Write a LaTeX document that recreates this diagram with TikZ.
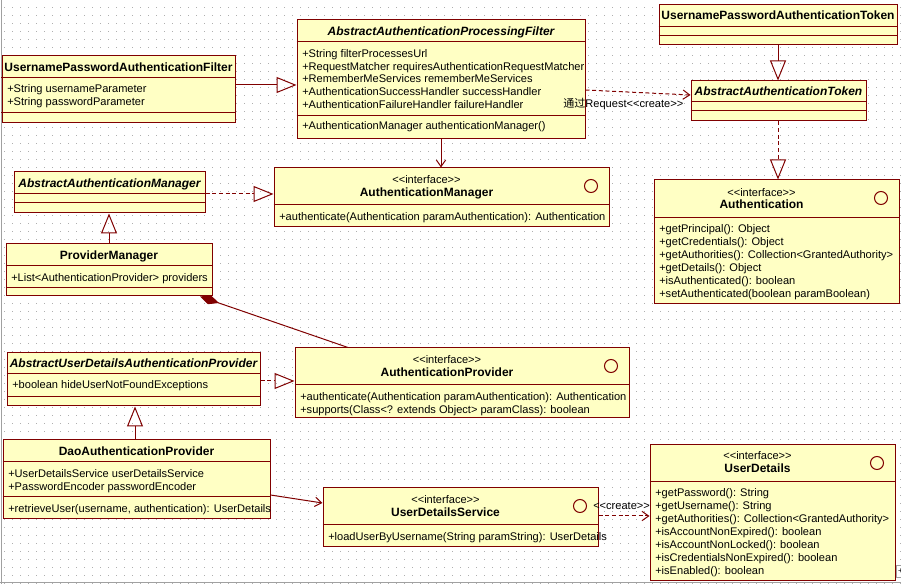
\documentclass[tikz,border=0pt]{standalone}
\usepackage{fontspec}
\setmainfont{Liberation Sans}[Ligatures=TeXOff]
\newfontfamily\cjk{Noto Sans CJK SC}
\usetikzlibrary{arrows.meta,fit,calc}
\definecolor{bord}{RGB}{128,0,0}
\definecolor{boxfill}{RGB}{255,255,196}
\definecolor{griddot}{RGB}{175,175,175}
\definecolor{frame}{RGB}{160,160,160}
\tikzset{
  ubox/.style={draw=bord, fill=boxfill, line width=0.75pt, inner sep=0pt},
  sep/.style={draw=bord, line width=0.75pt},
  txt/.style={inner sep=0pt, anchor=west, text height=6.2pt, text depth=0pt, font=\fontsize{8.3}{10}\selectfont},
  ster/.style={txt, anchor=center},
  ttl/.style={inner sep=0pt, anchor=center, text height=6.8pt, text depth=0pt, font=\fontsize{9}{10}\selectfont\bfseries},
  attl/.style={ttl, font=\fontsize{9}{10}\selectfont\bfseries\itshape},
  ifc/.style={draw=bord, line width=0.75pt},
  conn/.style={draw=bord, line width=0.75pt},
  gen/.style={conn, -{Triangle[open, length=15pt, width=12pt]}},
  real/.style={gen, dash pattern=on 3pt off 2pt},
  assoc/.style={conn, -{Straight Barb[length=5pt, width=7pt]}},
  dep/.style={assoc, dash pattern=on 3pt off 2pt},
  comp/.style={conn, {Diamond[length=15pt, width=7pt]}-},
  lbl/.style={inner sep=0pt, anchor=west, text height=6.2pt, text depth=0pt, font=\fontsize{8.3}{10}\selectfont},
}
\newcommand\cls[5]{\node[ubox, fit={(#2,#3) (#4,#5)}] (#1) {};}
\newcommand\sepl[2]{\draw[sep] (#1.west |- 0,#2) -- (#1.east |- 0,#2);}
\begin{document}
\begin{tikzpicture}[x=0.75pt, y=-0.75pt]
\useasboundingbox (0,0) rectangle (901,584);
\fill[white] (0,0) rectangle (901,584);
% dotted grid
\foreach \yy in {0,8,...,584} {
  \draw[griddot, line width=0.75pt, dash pattern=on 0.75pt off 5.25pt] (4,\yy) -- (901,\yy);
}
\draw[frame, line width=0.75pt] (1,0) -- (1,584);
\draw[frame, line width=0.75pt] (0,583) -- (901,583);

% ---------- UsernamePasswordAuthenticationFilter
\cls{upf}{2}{56}{235}{123}
\sepl{upf}{78}\sepl{upf}{113}
\node[ttl] (upf-t) at (118.5,67) {UsernamePasswordAuthenticationFilter};
\node[txt] (upf-a1) at (7,88) {+String usernameParameter};
\node[txt] (upf-a2) at (7,101) {+String passwordParameter};

% ---------- AbstractAuthenticationProcessingFilter
\cls{aapf}{297}{20}{585}{139}
\sepl{aapf}{42}\sepl{aapf}{116}
\node[attl] (aapf-t) at (441,31) {AbstractAuthenticationProcessingFilter};
\node[txt] (aapf-a1) at (302,53) {+String filterProcessesUrl};
\node[txt] (aapf-a2) at (302,66) {+RequestMatcher requiresAuthenticationRequestMatcher};
\node[txt] (aapf-a3) at (302,78.5) {+RememberMeServices rememberMeServices};
\node[txt] (aapf-a4) at (302,91) {+AuthenticationSuccessHandler successHandler};
\node[txt] (aapf-a5) at (302,104) {+AuthenticationFailureHandler failureHandler};
\node[txt] (aapf-o1) at (302,125) {+AuthenticationManager authenticationManager()};

% ---------- UsernamePasswordAuthenticationToken
\cls{upat}{659}{5}{897}{45}
\sepl{upat}{27}\sepl{upat}{36}
\node[ttl] (upat-t) at (778,15) {UsernamePasswordAuthenticationToken};

% ---------- AbstractAuthenticationToken
\cls{aat}{691}{81}{866}{121}
\sepl{aat}{102}\sepl{aat}{111}
\node[attl] (aat-t) at (778.5,91) {AbstractAuthenticationToken};

% ---------- AbstractAuthenticationManager
\cls{aam}{14}{172}{205}{213}
\sepl{aam}{194}\sepl{aam}{203}
\node[attl] (aam-t) at (109.5,183) {AbstractAuthenticationManager};

% ---------- ProviderManager
\cls{pm}{6}{244}{212}{296}
\sepl{pm}{266}\sepl{pm}{288}
\node[ttl] (pm-t) at (109,255) {ProviderManager};
\node[txt] (pm-a1) at (11,277) {+List<AuthenticationProvider> providers};

% ---------- AuthenticationManager
\cls{am}{274}{168}{609}{227}
\sepl{am}{205}
\node[ster] (am-s) at (426.5,179) {<<interface>>};
\node[ttl] (am-t) at (426.5,192) {AuthenticationManager};
\draw[ifc] (591,186) circle[radius=6.5];
\node[txt] (am-o1) at (279,216) {+authenticate(Authentication paramAuthentication): Authentication};

% ---------- Authentication
\cls{auth}{654}{180}{899}{304}
\sepl{auth}{218}
\node[ster] (auth-s) at (761.5,192) {<<interface>>};
\node[ttl] (auth-t) at (761.5,204) {Authentication};
\draw[ifc] (881,198) circle[radius=6.5];
\node[txt] (auth-o1) at (659,228) {+getPrincipal(): Object};
\node[txt] (auth-o2) at (659,241) {+getCredentials(): Object};
\node[txt] (auth-o3) at (659,254) {+getAuthorities(): Collection<GrantedAuthority>};
\node[txt] (auth-o4) at (659,267) {+getDetails(): Object};
\node[txt] (auth-o5) at (659,280) {+isAuthenticated(): boolean};
\node[txt] (auth-o6) at (659,293) {+setAuthenticated(boolean paramBoolean)};

% ---------- AbstractUserDetailsAuthenticationProvider
\cls{audap}{7}{353}{260}{406}
\sepl{audap}{374}\sepl{audap}{397}
\node[attl] (audap-t) at (133.5,363) {AbstractUserDetailsAuthenticationProvider};
\node[txt] (audap-a1) at (12,384) {+boolean hideUserNotFoundExceptions};

% ---------- DaoAuthenticationProvider
\cls{dao}{3}{440}{270}{519}
\sepl{dao}{462}\sepl{dao}{497}
\node[ttl] (dao-t) at (136.5,451) {DaoAuthenticationProvider};
\node[txt] (dao-a1) at (8,473) {+UserDetailsService userDetailsService};
\node[txt] (dao-a2) at (8,486) {+PasswordEncoder passwordEncoder};
\node[txt] (dao-o1) at (8,508) {+retrieveUser(username, authentication): UserDetails};

% ---------- AuthenticationProvider
\cls{ap}{295}{348}{629}{418}
\sepl{ap}{385}
\node[ster] (ap-s) at (447,359) {<<interface>>};
\node[ttl] (ap-t) at (447,372) {AuthenticationProvider};
\draw[ifc] (611,366) circle[radius=6.5];
\node[txt] (ap-o1) at (300,396) {+authenticate(Authentication paramAuthentication): Authentication};
\node[txt] (ap-o2) at (300,409) {+supports(Class<? extends Object> paramClass): boolean};

% ---------- UserDetailsService
\cls{uds}{323}{488}{598}{547}
\sepl{uds}{525}
\node[ster] (uds-s) at (445.5,499) {<<interface>>};
\node[ttl] (uds-t) at (445.5,512) {UserDetailsService};
\draw[ifc] (580,506) circle[radius=6.5];
\node[txt] (uds-o1) at (328,536) {+loadUserByUsername(String paramString): UserDetails};

% ---------- UserDetails
\cls{ud}{650}{445}{895}{581}
\sepl{ud}{482}
\node[ster] (ud-s) at (757.5,455) {<<interface>>};
\node[ttl] (ud-t) at (757.5,468) {UserDetails};
\draw[ifc] (877,463) circle[radius=6.5];
\node[txt] (ud-o1) at (655,492) {+getPassword(): String};
\node[txt] (ud-o2) at (655,505) {+getUsername(): String};
\node[txt] (ud-o3) at (655,518) {+getAuthorities(): Collection<GrantedAuthority>};
\node[txt] (ud-o4) at (655,531) {+isAccountNonExpired(): boolean};
\node[txt] (ud-o5) at (655,544) {+isAccountNonLocked(): boolean};
\node[txt] (ud-o6) at (655,557) {+isCredentialsNonExpired(): boolean};
\node[txt] (ud-o7) at (655,570) {+isEnabled(): boolean};

% ---------- connectors
\draw[gen] (upf.east |- 0,85) -- (aapf.west |- 0,85);
\draw[assoc] (aapf.south -| 441,0) -- (am.north -| 441,0);
\draw[gen] (upat.south -| 778,0) -- (aat.north -| 778,0);
\draw[real] (aat.south -| 778,0) -- (auth.north -| 778,0);
\draw[dep] (aapf.east |- 0,90) -- (aat.west |- 0,95);
\node[lbl] (lbl1) at (563,103) {{\cjk 通过}Request<<create>>};
\draw[real] (aam.east |- 0,194) -- (am.west |- 0,194);
\draw[gen] (pm.north -| 109,0) -- (aam.south -| 109,0);
\draw[comp] (pm.south -| 200,0) -- (ap.north -| 348,0);
\draw[real] (audap.east |- 0,381) -- (ap.west |- 0,381);
\draw[gen] (dao.north -| 135,0) -- (audap.south -| 135,0);
\draw[assoc] (dao.east |- 0,495) -- (uds.west |- 0,503);
\draw[dep] (uds.east |- 0,516) -- (ud.west |- 0,516);
\node[lbl] (lbl2) at (593,505) {<<create>>};

% scroll corner widget
\node[draw=frame, fill=white, line width=0.75pt, inner sep=0pt, minimum width=6pt, minimum height=9pt, anchor=north west, font=\fontsize{6}{6}\selectfont] (corner) at (896,565) {+};
\end{tikzpicture}
\end{document}
